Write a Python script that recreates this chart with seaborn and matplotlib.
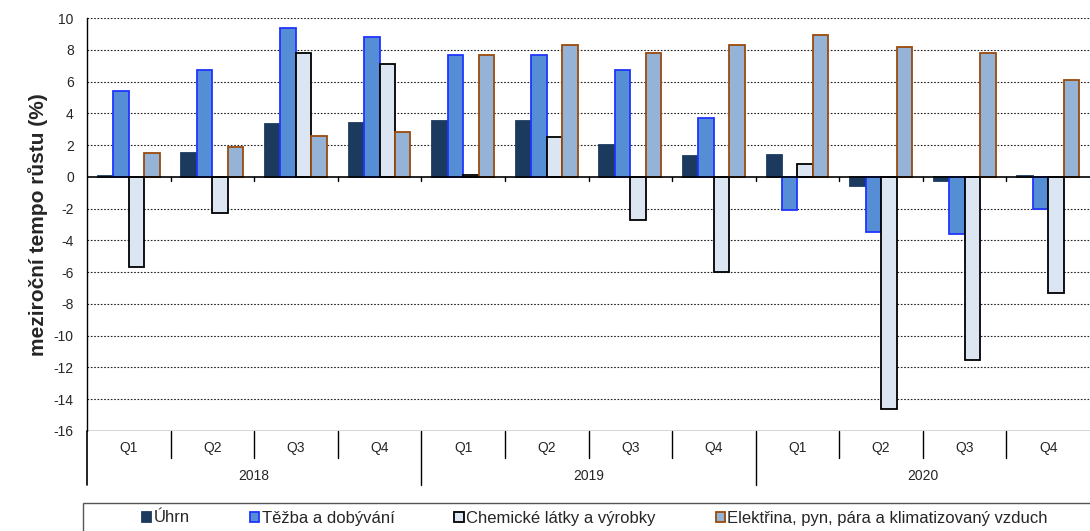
import matplotlib
matplotlib.use("Agg")
import matplotlib.pyplot as plt
from matplotlib.patches import Patch, Rectangle
from matplotlib.lines import Line2D
from matplotlib.offsetbox import TextArea
import seaborn as sns
import numpy as np
import pandas as pd

# data (year-on-year growth, %)
years = ['2018', '2019', '2020']
quarters = ['Q1', 'Q2', 'Q3', 'Q4']
series = ['Úhrn', 'Těžba a dobývání', 'Chemické látky a výrobky',
          'Elektřina, pyn, pára a klimatizovaný vzduch']
uhrn = [0.05, 1.5, 3.3, 3.4, 3.5, 3.5, 2.0, 1.3, 1.4, -0.6, -0.25, 0.05]
tezba = [5.4, 6.7, 9.4, 8.8, 7.7, 7.7, 6.7, 3.7, -2.1, -3.5, -3.6, -2.0]
chem = [-5.7, -2.3, 7.8, 7.1, 0.1, 2.5, -2.7, -6.0, 0.8, -14.6, -11.5, -7.3]
elek = [1.5, 1.9, 2.6, 2.8, 7.7, 8.3, 7.8, 8.3, 8.9, 8.2, 7.8, 6.1]

face_colors = ['#1B3A5E', '#558ED5', '#DCE6F2', '#95B3D7']
edge_colors = ['#1B3A5E', '#1F35FF', '#000000', '#9A4A0C']

periods = [f'{y} {q}' for y in years for q in quarters]
df = pd.DataFrame({
    'period': periods * 4,
    'series': np.repeat(series, len(periods)),
    'value': uhrn + tezba + chem + elek,
})

sns.set_style('white')
plt.rcParams['font.family'] = ['Liberation Sans', 'DejaVu Sans']
plt.rcParams['axes.unicode_minus'] = False

fig = plt.figure(figsize=(10.9, 5.31), dpi=100)
ax = fig.add_axes([87 / 1090, 100 / 531, 1003 / 1090, 413 / 531])

sns.barplot(data=df, x='period', y='value', hue='series', order=periods,
            hue_order=series, palette=face_colors, width=0.74, gap=0,
            errorbar=None, ax=ax, saturation=1, zorder=3)
for cont, ec in zip(ax.containers, edge_colors):
    for bar in cont:
        bar.set_edgecolor(ec)
        bar.set_linewidth(1.3)
if ax.get_legend() is not None:
    ax.get_legend().remove()

ax.set_xlim(-0.5, len(periods) - 0.5)
ax.set_ylim(-16, 10)
ax.set_yticks(range(-16, 11, 2))
ax.tick_params(axis='y', length=0, pad=9.5, labelsize=10)
ax.set_xticks([])
ax.set_xlabel('')
ax.set_ylabel('meziroční tempo růstu (%)', fontsize=15, fontweight='bold', labelpad=4)

for v in range(-14, 11, 2):
    if v != 0:
        ax.axhline(v, color='#222222', lw=0.8, ls=(0, (1.5, 1.5)), zorder=1)
ax.axhline(0, color='black', lw=1.2, zorder=4)
ax.axhline(-16, color='#333333', lw=1.0, zorder=4)
for b in np.arange(0.5, len(periods) - 0.5):
    ax.plot([b, b], [0, -0.27], color='black', lw=1, zorder=4)

for s in ['top', 'right', 'bottom']:
    ax.spines[s].set_visible(False)
ax.spines['left'].set_color('black')
ax.spines['left'].set_linewidth(1)

# category table below the axis
tr = ax.get_xaxis_transform()
h = 413
for i, p in enumerate(periods):
    ax.text(i, -17 / h, p.split()[1], transform=tr, ha='center', va='center', fontsize=10)
for b in np.arange(0.5, len(periods) - 0.5):
    yb = -54 / h if (b + 0.5) % 4 == 0 else -27 / h
    ax.add_line(Line2D([b, b], [0, yb], transform=tr, color='black', lw=1, clip_on=False))
ax.add_line(Line2D([-0.5, -0.5], [0, -54 / h], transform=tr, color='black', lw=1.2, clip_on=False))
for j, y in enumerate(years):
    ax.text(j * 4 + 1.5, -45 / h, y, transform=tr, ha='center', va='center', fontsize=10)

# legend
fig.patches.append(Rectangle((83 / 1090, -0.05), 1.2, (531 - 503) / 531 + 0.05,
                             transform=fig.transFigure, fill=False,
                             edgecolor='#555555', lw=1))
handles = [Patch(facecolor=fc, edgecolor=ec, lw=1.3) for fc, ec in zip(face_colors, edge_colors)]
leg = fig.legend(handles, series, loc='center', bbox_to_anchor=(595 / 1090, 13 / 531),
                 ncol=4, frameon=False, fontsize=12, handlelength=0.55, handleheight=0.55,
                 handletextpad=0.15, columnspacing=3.6, borderpad=0)
# keep all labels on one baseline (the tall Ú would otherwise shift its entry)
for ta in leg.findobj(match=TextArea):
    ta.set_multilinebaseline(False)

fig.savefig('out.png', dpi=100)
